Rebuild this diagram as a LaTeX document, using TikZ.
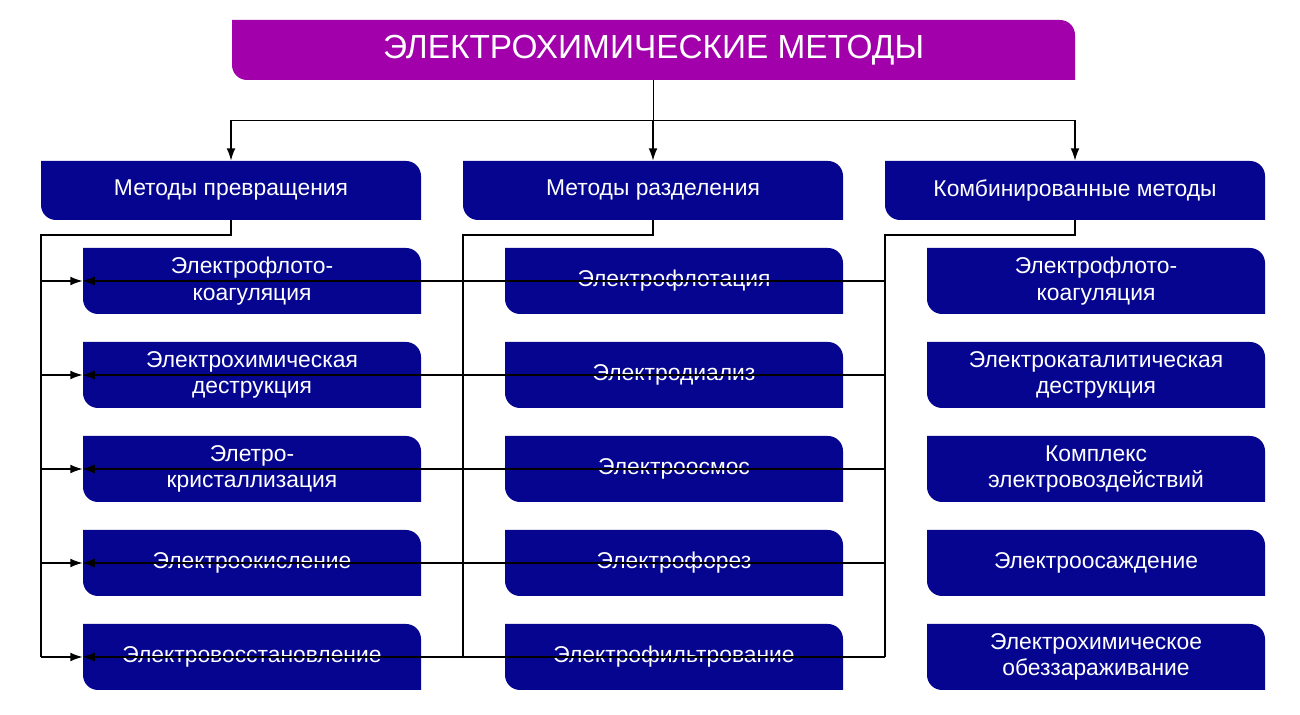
\documentclass[tikz,border=0pt]{standalone}
\usepackage{fontspec}
\setmainfont{Liberation Sans}
\usetikzlibrary{arrows.meta,positioning}
\definecolor{navyblock}{HTML}{05058F}
\definecolor{topblock}{HTML}{A100AB}
\tikzset{
  label/.style={text=white,font=\fontsize{13pt}{15pt}\selectfont,align=center,inner sep=0pt},
  link/.style={thick,-{Latex[length=7pt,width=5pt]}}
}
% name, x1, y1 (bottom), x2, y2 (top), colour, text
\newcommand\blockbox[7]{%
  \fill[#6] (#2,#5) -- ({#4-15},#5) arc[start angle=90,end angle=0,radius=0.3cm]
    -- (#4,#3) -- ({#2+15},#3) arc[start angle=270,end angle=180,radius=0.3cm] -- cycle;
  \node (#1) [label,minimum width={(#4-#2)*0.02cm},minimum height={(#5-#3)*0.02cm}]
    at ({(#2+#4)/2},{(#3+#5)/2}) {#7};
}
\begin{document}
\begin{tikzpicture}[x=0.02cm,y=0.02cm]
  \useasboundingbox (0,0) rectangle (1300,715);

  \blockbox{top}{232}{635}{1075}{695}{topblock}{\fontsize{19pt}{22pt}\selectfont ЭЛЕКТРОХИМИЧЕСКИЕ МЕТОДЫ}

  \foreach \c/\off/\head in {0/0/Методы превращения,1/422/Методы разделения,2/844/Комбинированные методы}
    {
      \blockbox{group_\c}{41+\off}{495}{421+\off}{554}{navyblock}{\head}
      \draw[link] (top.south) -- ++(0,-40) -| (group_\c.north);
    }

  \foreach \c/\off/\names in {
      0/0/{Электрофлото-\\коагуляция,Электрохимическая\\деструкция,Элетро-\\кристаллизация,Электроокисление,Электровосстановление},
      1/422/{Электрофлотация,Электродиализ,Электроосмос,Электрофорез,Электрофильтрование},
      2/844/{Электрофлото-\\коагуляция,Электрокаталитическая\\деструкция,Комплекс\\электровоздействий,Электроосаждение,Электрохимическое\\обеззараживание}}
    {
      \coordinate (trunk_\c) at (41+\off,480);
      \foreach \t [count=\j from 0] in \names
        {
          \blockbox{item_\c_\j}{83+\off}{401-94*\j}{421+\off}{467-94*\j}{navyblock}{\t}
          \draw[link] (trunk_\c |- item_\c_\j.west) -- (item_\c_\j.west);
        }
      \draw[thick] (group_\c.south) |- (trunk_\c) -- (trunk_\c |- item_\c_4.west);
    }
\end{tikzpicture}
\end{document}
